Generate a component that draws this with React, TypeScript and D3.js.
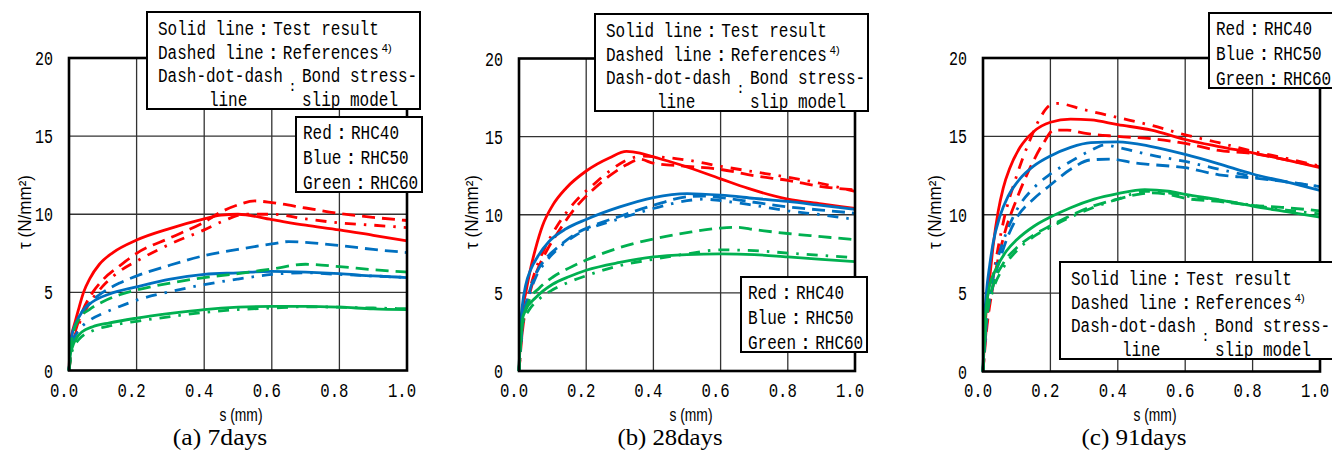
import React from "react";
import * as d3 from "d3";

type Pt = [number, number];

// ---------- (a) 7 days ----------
const d7RedTest: Pt[] = [[0,0],[0.004,1.8],[0.008,2.3],[0.018,3.1],[0.028,3.9],[0.043,5.0],[0.062,5.9],[0.09,6.8],[0.13,7.55],[0.2,8.35],[0.3,9.1],[0.4,9.7],[0.45,9.95],[0.5,10.0],[0.6,9.65],[0.7,9.3],[0.8,9.0],[0.9,8.65],[1.0,8.3]];
const d7RedRef: Pt[] = [[0,0],[0.01,1.8],[0.02,2.6],[0.04,3.8],[0.07,5.0],[0.1,5.8],[0.15,6.7],[0.2,7.5],[0.3,8.5],[0.4,9.5],[0.45,10.15],[0.5,10.6],[0.55,10.85],[0.6,10.75],[0.7,10.4],[0.8,10.05],[0.9,9.8],[1.0,9.6]];
const d7RedModel: Pt[] = [[0,0],[0.01,1.7],[0.02,2.4],[0.04,3.5],[0.07,4.6],[0.1,5.4],[0.15,6.35],[0.2,7.0],[0.3,8.1],[0.4,9.0],[0.46,9.6],[0.52,10.0],[0.6,10.0],[0.7,9.7],[0.8,9.45],[0.9,9.3],[1.0,9.15]];
const d7BlueTest: Pt[] = [[0,0],[0.004,1.6],[0.008,2.2],[0.02,3.0],[0.04,3.8],[0.07,4.4],[0.12,4.9],[0.2,5.35],[0.3,5.85],[0.4,6.15],[0.5,6.25],[0.6,6.35],[0.7,6.3],[0.8,6.2],[0.9,6.05],[1.0,5.95]];
const d7BlueRef: Pt[] = [[0,0],[0.01,2.2],[0.03,3.4],[0.06,4.3],[0.1,5.0],[0.15,5.6],[0.2,6.05],[0.3,6.75],[0.4,7.35],[0.5,7.75],[0.6,8.1],[0.65,8.25],[0.7,8.2],[0.8,8.0],[0.9,7.75],[1.0,7.55]];
const d7BlueModel: Pt[] = [[0,0],[0.01,1.8],[0.03,2.6],[0.06,3.2],[0.1,3.65],[0.15,4.1],[0.2,4.5],[0.3,5.05],[0.4,5.5],[0.5,5.85],[0.6,6.15],[0.7,6.25],[0.8,6.15],[0.9,6.05],[1.0,5.95]];
const d7GreenTest: Pt[] = [[0,0],[0.004,1.0],[0.01,1.5],[0.02,2.0],[0.04,2.5],[0.07,2.8],[0.12,3.05],[0.2,3.35],[0.3,3.65],[0.4,3.9],[0.5,4.05],[0.6,4.1],[0.7,4.1],[0.8,4.05],[0.9,3.95],[1.0,3.9]];
const d7GreenRef: Pt[] = [[0,0],[0.01,2.2],[0.03,3.3],[0.06,3.9],[0.1,4.4],[0.15,4.85],[0.2,5.15],[0.3,5.6],[0.4,5.95],[0.5,6.2],[0.6,6.5],[0.7,6.8],[0.8,6.65],[0.9,6.45],[1.0,6.3]];
const d7GreenModel: Pt[] = [[0,0],[0.01,1.3],[0.03,2.0],[0.07,2.55],[0.12,2.85],[0.2,3.15],[0.3,3.45],[0.4,3.72],[0.5,3.9],[0.6,4.0],[0.7,4.08],[0.8,4.05],[0.9,4.0],[1.0,3.95]];

// ---------- (b) 28 days ----------
const d28RedTest: Pt[] = [[0,0],[0.005,2.5],[0.01,3.8],[0.02,5.0],[0.035,6.6],[0.05,7.9],[0.07,9.3],[0.1,10.6],[0.14,11.7],[0.2,12.8],[0.27,13.65],[0.32,14.05],[0.36,13.95],[0.4,13.7],[0.48,13.2],[0.6,12.3],[0.68,11.7],[0.8,11.0],[0.9,10.7],[1.0,10.4]];
const d28RedRef: Pt[] = [[0,0],[0.01,2.5],[0.03,4.8],[0.05,6.2],[0.08,7.6],[0.12,9.0],[0.17,10.5],[0.22,11.6],[0.27,12.5],[0.32,13.2],[0.36,13.55],[0.4,13.3],[0.5,13.1],[0.6,12.9],[0.7,12.5],[0.8,12.2],[0.9,11.8],[1.0,11.6]];
const d28RedModel: Pt[] = [[0,0],[0.01,2.6],[0.03,5.0],[0.05,6.5],[0.08,8.0],[0.12,9.5],[0.17,10.9],[0.22,11.9],[0.27,12.8],[0.32,13.5],[0.37,13.75],[0.42,13.7],[0.5,13.5],[0.6,13.1],[0.7,12.75],[0.8,12.4],[0.9,12.0],[1.0,11.5]];
const d28BlueTest: Pt[] = [[0,0],[0.005,3.0],[0.01,4.2],[0.02,5.5],[0.035,6.5],[0.055,7.3],[0.09,8.3],[0.14,9.1],[0.2,9.7],[0.3,10.5],[0.4,11.1],[0.5,11.35],[0.6,11.25],[0.7,11.05],[0.8,10.85],[0.9,10.6],[1.0,10.35]];
const d28BlueRef: Pt[] = [[0,0],[0.01,3.0],[0.03,5.0],[0.05,6.2],[0.08,7.2],[0.12,8.0],[0.17,8.8],[0.22,9.3],[0.3,9.9],[0.4,10.6],[0.5,11.15],[0.55,11.2],[0.6,11.1],[0.7,10.8],[0.8,10.5],[0.9,10.3],[1.0,10.1]];
const d28BlueModel: Pt[] = [[0,0],[0.01,2.8],[0.03,4.8],[0.05,6.0],[0.08,7.0],[0.12,7.9],[0.17,8.7],[0.22,9.2],[0.3,9.75],[0.4,10.4],[0.5,10.9],[0.55,11.0],[0.6,10.9],[0.7,10.6],[0.8,10.25],[0.9,10.0],[1.0,9.7]];
const d28GreenTest: Pt[] = [[0,0],[0.005,2.5],[0.01,3.3],[0.02,3.9],[0.05,4.7],[0.1,5.55],[0.15,6.05],[0.2,6.45],[0.3,6.95],[0.4,7.3],[0.5,7.45],[0.6,7.5],[0.7,7.45],[0.8,7.3],[0.9,7.15],[1.0,7.0]];
const d28GreenRef: Pt[] = [[0,0],[0.01,3.0],[0.03,4.5],[0.06,5.3],[0.1,6.0],[0.15,6.6],[0.2,7.1],[0.3,7.9],[0.4,8.45],[0.5,8.85],[0.6,9.15],[0.65,9.2],[0.7,9.05],[0.8,8.8],[0.9,8.6],[1.0,8.4]];
const d28GreenModel: Pt[] = [[0,0],[0.01,3.0],[0.03,3.9],[0.06,4.6],[0.1,5.2],[0.15,5.7],[0.2,6.1],[0.3,6.75],[0.4,7.15],[0.5,7.5],[0.6,7.75],[0.7,7.7],[0.8,7.55],[0.9,7.4],[1.0,7.25]];

// ---------- (c) 91 days ----------
const d91RedTest: Pt[] = [[0,0],[0.005,2.5],[0.01,4.0],[0.02,6.0],[0.03,8.0],[0.045,10.2],[0.06,11.7],[0.08,13.0],[0.11,14.3],[0.15,15.3],[0.2,15.9],[0.26,16.1],[0.32,16.05],[0.4,15.75],[0.5,15.4],[0.6,14.8],[0.7,14.35],[0.8,13.95],[0.9,13.5],[1.0,13.0]];
const d91RedRef: Pt[] = [[0,0],[0.01,2.5],[0.03,5.5],[0.06,8.5],[0.1,11.0],[0.14,13.0],[0.18,14.6],[0.21,15.4],[0.25,15.4],[0.3,15.2],[0.4,15.0],[0.5,14.85],[0.6,14.55],[0.7,14.1],[0.8,13.9],[0.9,13.5],[1.0,13.05]];
const d91RedModel: Pt[] = [[0,0],[0.01,2.8],[0.03,6.0],[0.06,9.5],[0.1,12.5],[0.14,14.8],[0.17,16.2],[0.2,17.0],[0.22,17.1],[0.3,16.7],[0.4,16.2],[0.5,15.7],[0.6,15.1],[0.7,14.6],[0.8,14.05],[0.9,13.6],[1.0,13.1]];
const d91BlueTest: Pt[] = [[0,0],[0.005,3.5],[0.01,5.0],[0.02,6.8],[0.03,8.2],[0.05,9.9],[0.075,11.2],[0.11,12.3],[0.15,13.1],[0.2,13.75],[0.26,14.3],[0.32,14.6],[0.4,14.65],[0.5,14.35],[0.6,13.85],[0.7,13.25],[0.8,12.6],[0.9,12.1],[1.0,11.55]];
const d91BlueRef: Pt[] = [[0,0],[0.01,3.0],[0.03,5.5],[0.06,7.8],[0.1,9.8],[0.15,11.0],[0.2,11.9],[0.26,12.9],[0.32,13.5],[0.38,13.55],[0.45,13.3],[0.5,13.2],[0.6,13.0],[0.7,12.55],[0.8,12.35],[0.9,12.1],[1.0,11.8]];
const d91BlueModel: Pt[] = [[0,0],[0.01,3.2],[0.03,6.0],[0.06,8.3],[0.1,10.3],[0.15,11.7],[0.2,12.6],[0.26,13.4],[0.32,14.1],[0.36,14.45],[0.4,14.3],[0.45,14.05],[0.5,13.8],[0.6,13.4],[0.7,12.9],[0.8,12.45],[0.9,12.1],[1.0,11.8]];
const d91GreenTest: Pt[] = [[0,0],[0.005,3.0],[0.01,4.2],[0.02,5.5],[0.04,6.6],[0.07,7.7],[0.1,8.4],[0.15,9.25],[0.2,9.85],[0.26,10.45],[0.33,11.0],[0.4,11.35],[0.48,11.6],[0.55,11.5],[0.6,11.3],[0.7,10.95],[0.8,10.55],[0.9,10.2],[1.0,9.85]];
const d91GreenRef: Pt[] = [[0,0],[0.01,3.5],[0.03,5.5],[0.06,6.9],[0.1,7.9],[0.15,8.7],[0.2,9.3],[0.26,9.95],[0.32,10.5],[0.4,11.0],[0.46,11.3],[0.5,11.4],[0.55,11.3],[0.6,11.05],[0.7,10.85],[0.8,10.6],[0.9,10.45],[1.0,10.25]];
const d91GreenModel: Pt[] = [[0,0],[0.01,3.3],[0.03,5.2],[0.06,6.6],[0.1,7.7],[0.15,8.6],[0.2,9.2],[0.26,9.85],[0.32,10.4],[0.4,11.0],[0.48,11.5],[0.55,11.4],[0.6,11.2],[0.7,10.95],[0.8,10.6],[0.9,10.3],[1.0,10.05]];

// ---------- axes / labels ----------
const X_TICKS = [0, 0.2, 0.4, 0.6, 0.8, 1.0];
const X_TICK_LABELS = ["0.0", "0.2", "0.4", "0.6", "0.8", "1.0"];
const Y_TICKS = [0, 5, 10, 15, 20];
const Y_TICK_LABELS = ["0", "5", "10", "15", "20"];
const CAPTIONS = ["(a) 7days", "(b) 28days", "(c) 91days"];
const X_TITLE = "s (mm)";
const Y_TITLE = "τ (N/mm²)";
const COLOR_NAMES = ["Red", "Blue", "Green"];
const COLOR_SERIES = ["RHC40", "RHC50", "RHC60"];
const COLORS = ["#ff0000", "#0070c0", "#00b050"];

const MONO = "'Liberation Mono', 'DejaVu Sans Mono', monospace";
const SANS = "'Liberation Sans', 'DejaVu Sans', sans-serif";
const SERIF = "'Liberation Serif', 'DejaVu Serif', serif";
const CW = 9.6;

const DATA = [
  [[d7RedTest, d7RedRef, d7RedModel], [d7BlueTest, d7BlueRef, d7BlueModel], [d7GreenTest, d7GreenRef, d7GreenModel]],
  [[d28RedTest, d28RedRef, d28RedModel], [d28BlueTest, d28BlueRef, d28BlueModel], [d28GreenTest, d28GreenRef, d28GreenModel]],
  [[d91RedTest, d91RedRef, d91RedModel], [d91BlueTest, d91BlueRef, d91BlueModel], [d91GreenTest, d91GreenRef, d91GreenModel]],
];

const PANELS = [
  { x0: 69, x1: 407, yTop: 58, yBot: 370.5, yLabX: 24, l1: [147, 12], l2: [296, 117] },
  { x0: 519, x1: 855, yTop: 58.5, yBot: 371, yLabX: 471, l1: [595, 14], l2: [741, 277] },
  { x0: 983, x1: 1320, yTop: 58, yBot: 371.5, yLabX: 934, l1: [1060, 262], l2: [1209, 13] },
];

const DASHES = [null, "13 7", "11 8 2.5 8"];
const FS = 20;

function Mono({ x, y, text, size = FS, cw = CW, anchor = "start" }: { x: number; y: number; text: string; size?: number; cw?: number; anchor?: string }) {
  return (
    <text x={x} y={y} fontFamily={MONO} fontSize={size} textLength={text.length * cw} lengthAdjust="spacingAndGlyphs" textAnchor={anchor as any} fill="#000">
      {text}
    </text>
  );
}

function Colon({ x, y, size = FS }: { x: number; y: number; size?: number }) {
  return (
    <text x={x} y={y} fontFamily={MONO} fontSize={size} textAnchor="middle" fill="#000">:</text>
  );
}

function StyleLegend({ x, y }: { x: number; y: number }) {
  const tx = x + 11;
  return (
    <g>
      <rect x={x} y={y} width={273} height={97} fill="#fff" stroke="#000" strokeWidth={2} />
      <Mono x={tx} y={y + 23} text="Solid line" />
      <Colon x={tx + 11 * CW} y={y + 23} />
      <Mono x={tx + 12 * CW} y={y + 23} text="Test result" />
      <Mono x={tx} y={y + 47} text="Dashed line" />
      <Colon x={tx + 12 * CW} y={y + 47} />
      <Mono x={tx + 13 * CW} y={y + 47} text="References" />
      <text x={tx + 23 * CW + 3} y={y + 40} fontFamily={SANS} fontSize={11} fill="#000">4)</text>
      <Mono x={tx} y={y + 70} text="Dash-dot-dash" />
      <Colon x={tx + 14 * CW} y={y + 79} size={14} />
      <Mono x={tx + 15 * CW} y={y + 70} text="Bond stress-" />
      <Mono x={tx + 5.3 * CW} y={y + 94} text="line" />
      <Mono x={tx + 15 * CW} y={y + 94} text="slip model" />
    </g>
  );
}

function ColorLegend({ x, y }: { x: number; y: number }) {
  const tx = x + 7;
  return (
    <g>
      <rect x={x} y={y} width={126} height={75} fill="#fff" stroke="#000" strokeWidth={2} />
      {COLOR_NAMES.map((n, i) => (
        <g key={n}>
          <Mono x={tx} y={y + 22 + i * 25} text={n} />
          <Colon x={tx + (n.length + 1) * CW} y={y + 22 + i * 25} />
          <Mono x={tx + (n.length + 2) * CW} y={y + 22 + i * 25} text={COLOR_SERIES[i]} />
        </g>
      ))}
    </g>
  );
}

function Panel({ idx }: { idx: number }) {
  const p = PANELS[idx];
  const x = d3.scaleLinear().domain([0, 1]).range([p.x0, p.x1]);
  const y = d3.scaleLinear().domain([0, 20]).range([p.yBot, p.yTop]);
  const line = d3
    .line<Pt>()
    .x((d) => x(d[0]))
    .y((d) => y(d[1]))
    .curve(d3.curveMonotoneX);
  const series = DATA[idx];
  return (
    <g>
      {X_TICKS.slice(1, -1).map((t) => (
        <line key={"gx" + t} x1={x(t)} x2={x(t)} y1={p.yTop} y2={p.yBot} stroke="#333" strokeWidth={1.3} />
      ))}
      {Y_TICKS.slice(1, -1).map((t) => (
        <line key={"gy" + t} x1={p.x0} x2={p.x1} y1={y(t)} y2={y(t)} stroke="#333" strokeWidth={1.3} />
      ))}
      {series.map((group, ci) =>
        [1, 2, 0].map((k) => (
          <path
            key={ci + "-" + k}
            d={line(group[k]) || ""}
            fill="none"
            stroke={COLORS[ci]}
            strokeWidth={2.8}
            strokeDasharray={DASHES[k] || undefined}
            strokeLinejoin="round"
          />
        ))
      )}
      <rect x={p.x0} y={p.yTop} width={p.x1 - p.x0} height={p.yBot - p.yTop} fill="none" stroke="#000" strokeWidth={2.6} />
      {Y_TICKS.map((t, i) => (
        <Mono key={"yl" + t} x={p.x0 - 16} y={y(t) + 7} text={Y_TICK_LABELS[i]} size={21} cw={9} anchor="end" />
      ))}
      {X_TICKS.map((t, i) => (
        <Mono key={"xl" + t} x={x(t) - 5} y={397} text={X_TICK_LABELS[i]} size={21} cw={9.4} anchor="middle" />
      ))}
      <text x={p.x0 + 172} y={421} fontFamily={SANS} fontSize={19} textAnchor="middle" textLength={43} lengthAdjust="spacingAndGlyphs" fill="#000">
        {X_TITLE}
      </text>
      <text
        transform={`translate(${p.yLabX + 7},212) rotate(-90)`}
        fontFamily={SANS}
        fontSize={18}
        textAnchor="middle"
        textLength={74}
        lengthAdjust="spacingAndGlyphs"
        fill="#000"
      >
        {Y_TITLE}
      </text>
      <text x={p.x0 + 151} y={445} fontFamily={SERIF} fontSize={23} textAnchor="middle" textLength={CAPTIONS[idx].length * 10.5} lengthAdjust="spacingAndGlyphs" fill="#000">
        {CAPTIONS[idx]}
      </text>
      <StyleLegend x={p.l1[0]} y={p.l1[1]} />
      <ColorLegend x={p.l2[0]} y={p.l2[1]} />
    </g>
  );
}

export default function App() {
  return (
    <svg width={1332} height={450} viewBox="0 0 1332 450" style={{ position: "absolute", left: 0, top: 0, background: "#fff" }}>
      <rect x={0} y={0} width={1332} height={450} fill="#fff" />
      {[0, 1, 2].map((i) => (
        <Panel key={i} idx={i} />
      ))}
    </svg>
  );
}
